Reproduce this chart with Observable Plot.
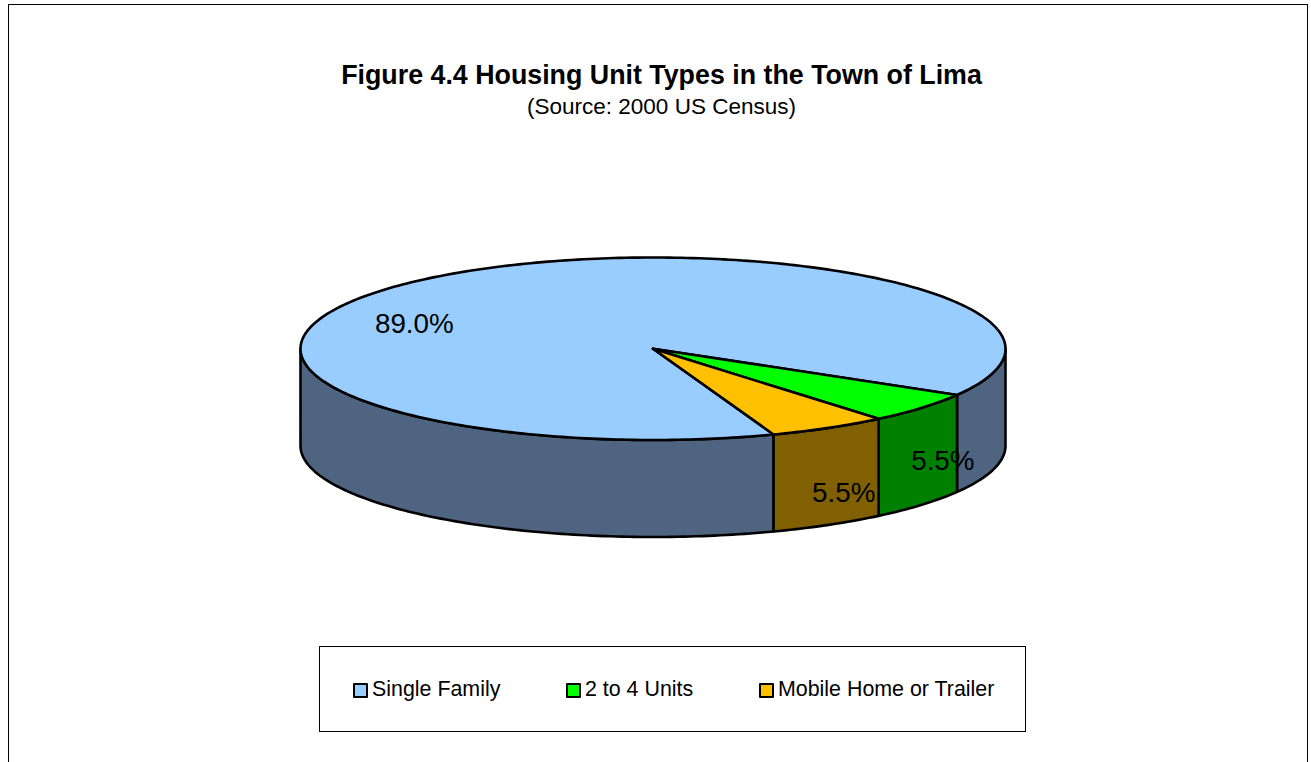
<!DOCTYPE html>
<html>
<head>
<meta charset="utf-8">
<script src="https://cdn.jsdelivr.net/npm/d3@7"></script>
<script src="https://cdn.jsdelivr.net/npm/@observablehq/plot@0.6"></script>
<style>
  html, body { margin: 0; padding: 0; background: #fff; overflow: hidden; }
  #page { position: relative; width: 1311px; height: 762px; overflow: hidden; font-family: "Liberation Sans", Arial, sans-serif; color: #000; }
  #frame { position: absolute; left: 8px; top: 4px; width: 1297.5px; height: 800px; border: 1.5px solid #000; }
  #title { position: absolute; left: 0; width: 1323px; top: 60px; text-align: center; font-size: 26.8px; font-weight: bold; line-height: 30px; }
  #subtitle { position: absolute; left: 0; width: 1323px; top: 94px; text-align: center; font-size: 22.5px; line-height: 26px; }
  #chart { position: absolute; left: 0; top: 130px; }
  #legend { position: absolute; left: 319px; top: 646px; width: 705px; height: 84px; border: 1.5px solid #000; }
  .item { position: absolute; top: 29px; font-size: 21.4px; line-height: 26px; white-space: nowrap; }
  .swatch { position: absolute; left: -19px; top: 7px; width: 11px; height: 11px; border: 2px solid #000; border-radius: 1px; }
</style>
</head>
<body>
<div id="page">
  <div id="frame"></div>
  <div id="title"></div>
  <div id="subtitle"></div>
  <div id="chart"></div>
  <div id="legend"></div>
</div>
<script>
const titleText = "Figure 4.4 Housing Unit Types in the Town of Lima";
const subtitleText = "(Source: 2000 US Census)";
const categories = ["Single Family", "2 to 4 Units", "Mobile Home or Trailer"];
const shares = [89.0, 5.5, 5.5];
const topColors = ["#99CCFF", "#00FF00", "#FFC000"];
const sideColors = ["#4F6480", "#008000", "#806000"];
const labelDx = [-13, 21, 15];
const labelDy = [45, 53, 65];
const legendLeft = [52, 265, 458];

const deg = Math.PI / 180;
const depth = 97 / 91.25;               // wall height, in units of the ellipse's minor radius
const startAngle = 70;                  // first slice starts here (degrees clockwise from east)
const total = d3.sum(shares);
const cum = d3.cumsum(shares);
const slices = categories.map((name, i) => ({
  name, value: shares[i], top: topColors[i], side: sideColors[i],
  a0: startAngle + (i ? cum[i - 1] : 0) / total * 360,
  a1: startAngle + cum[i] / total * 360
}));
const rim = (a, drop = 0) => ({ x: Math.cos(a * deg), y: Math.sin(a * deg) + drop });
const arc = (a0, a1, drop = 0) => {
  const n = Math.max(2, Math.ceil(Math.abs(a1 - a0)));
  return d3.range(n + 1).map(k => rim(a0 + (a1 - a0) * k / n, drop));
};

const polys = [];
// front walls: only the part of each slice between 0 and 180 degrees (and 360-540) shows
slices.forEach((s, i) => {
  [[0, 180], [360, 540]].forEach(([lo, hi], j) => {
    const a = Math.max(s.a0, lo), b = Math.min(s.a1, hi);
    if (a < b) {
      const ring = [...arc(a, b), ...arc(b, a, depth)];
      ring.push(ring[0]);
      ring.forEach(p => polys.push({ ...p, id: `wall-${i}-${j}`, fill: s.side }));
    }
  });
});
// top faces
slices.forEach((s, i) => {
  const ring = [{ x: 0, y: 0 }, ...arc(s.a0, s.a1), { x: 0, y: 0 }];
  ring.forEach(p => polys.push({ ...p, id: `top-${i}`, fill: s.top }));
});

const labelMarks = slices.map((s, i) => {
  const m = rim((s.a0 + s.a1) / 2);
  return Plot.text([{ ...m, t: s.value.toFixed(1) + "%" }], {
    x: "x", y: "y", text: "t", dx: labelDx[i], dy: labelDy[i],
    fontSize: 27.8, fill: "#000", fontFamily: "Liberation Sans, Arial, sans-serif"
  });
});

const chart = Plot.plot({
  width: 1311, height: 500,
  margin: 0,
  x: { axis: null, domain: [-1, 1], range: [300, 1005] },
  y: { axis: null, domain: [-1, 1], range: [127, 309.5] },
  color: { type: "identity" },
  style: { background: "transparent" },
  marks: [
    Plot.line(polys, { x: "x", y: "y", z: "id", fill: "fill", stroke: "#000", strokeWidth: 2.6, strokeLinejoin: "round", curve: "linear" }),
    ...labelMarks
  ]
});
document.getElementById("chart").appendChild(chart);
document.getElementById("title").textContent = titleText;
document.getElementById("subtitle").textContent = subtitleText;
const legend = document.getElementById("legend");
categories.forEach((name, i) => {
  const item = document.createElement("div");
  item.className = "item";
  item.style.left = legendLeft[i] + "px";
  const sw = document.createElement("span");
  sw.className = "swatch";
  sw.style.background = topColors[i];
  item.appendChild(sw);
  item.appendChild(document.createTextNode(name));
  legend.appendChild(item);
});
</script>
</body>
</html>
